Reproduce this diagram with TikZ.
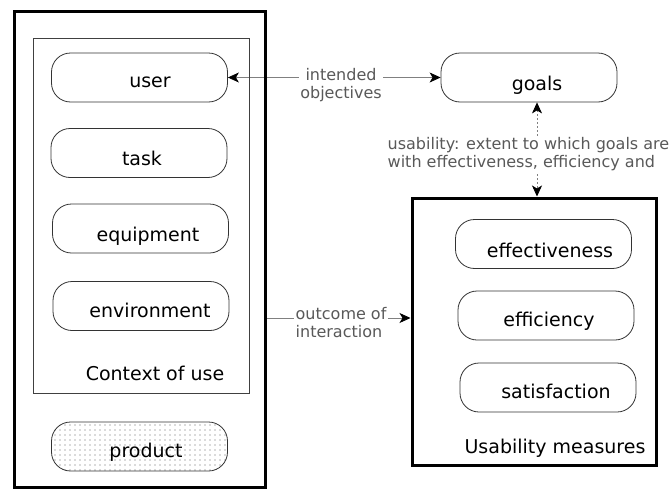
\documentclass[tikz,border=0pt]{standalone}
\usepackage{fontspec}
\setmainfont{DejaVu Sans}
\usetikzlibrary{arrows.meta,patterns.meta,calc}
\pgfdeclarelayer{bg}
\pgfsetlayers{bg,main}
\definecolor{linegray}{gray}{0.5}
\definecolor{labelgray}{gray}{0.35}
\definecolor{dotgray}{gray}{0.4}
\tikzdeclarepattern{name=sparsedots,type=uncolored,
  bounding box={(-1pt,-1pt) and (1pt,1pt)},
  tile size={(5pt,5pt)},
  code={\fill (0pt,0pt) circle (0.55pt);}}
\tikzset{
  myarr/.tip={Stealth[length=11pt,width=10pt,inset=3pt,color=black]},
  frame/.style={draw=black, line width=3pt, inner sep=0pt},
  ctxframe/.style={draw=black!75, line width=1pt, inner sep=0pt},
  box/.style={draw=black!80, line width=0.8pt, rounded corners=19pt, inner sep=0pt,
              minimum width=176pt, minimum height=49pt},
  txt/.style={font=\fontsize{19}{23}\selectfont, text height=10.4pt, text depth=0pt, inner sep=0pt},
  lbl/.style={font=\fontsize{16}{18}\selectfont, text=labelgray, fill=white, inner sep=1.5pt},
  conn/.style={draw=linegray, line width=0.8pt}
}
\begin{document}
\begin{tikzpicture}[x=1pt,y=-1pt]
\useasboundingbox (0,0) rectangle (670,490);
\begin{pgfonlayer}{bg}
\fill[white] (0,0) rectangle (670,490);
\end{pgfonlayer}

% frames
\node[frame, minimum width=251pt, minimum height=476pt] (leftframe) at (139.5,249) {};
\node[ctxframe, minimum width=216pt, minimum height=355pt] (context) at (141,215.5) {};
\node[frame, minimum width=244pt, minimum height=267pt] (usab) at (534,331.5) {};

% rounded boxes
\node[box] (user) at (139.5,77.5) {};
\node[box] (task) at (139,153) {};
\node[box] (equip) at (140.5,228.5) {};
\node[box] (env) at (141,306) {};
\node[box, pattern=sparsedots, pattern color=dotgray] (product) at (139.5,446.5) {};
\node[box] (goals) at (529,77.5) {};
\node[box] (effect) at (543.5,244) {};
\node[box] (effic) at (546,315.5) {};
\node[box] (satis) at (548,387.5) {};

% box texts
\node[txt] (userT) at (150,82) {user};
\node[txt] (taskT) at (142,160) {task};
\node[txt] (equipT) at (148,236) {equipment};
\node[txt] (envT) at (150,312) {environment};
\node[txt] (productT) at (146,452) {product};
\node[txt] (goalsT) at (537,85) {goals};
\node[txt] (effectT) at (550,252) {effectiveness};
\node[txt] (efficT) at (549,321) {efficiency};
\node[txt] (satisT) at (556,393) {satisfaction};
\node[txt] (ctxT) at (155,375) {Context of use};
\node[txt] (usabT) at (555,448) {Usability measures};

% connectors
\coordinate (outc) at (265,318);
\begin{pgfonlayer}{bg}
\draw[conn, myarr-myarr] (user.east) -- (goals.west);
\draw[conn, dash pattern=on 2pt off 2pt, myarr-myarr] ([xshift=8pt]goals.south) -- ([xshift=8pt]goals.south |- usab.north);
\draw[conn, -myarr] (outc) -- (outc -| usab.west);
\end{pgfonlayer}

% connector labels
\node[lbl, align=center, anchor=north] (lblA) at (341,66.5) {intended\\objectives};
\node[lbl, align=left, anchor=north west] (lblB) at (386,136) {usability: extent to which goals are\\with effectiveness, efficiency and};
\node[lbl, align=left, anchor=north west] (lblC) at (294,305.5) {outcome of\\interaction};
\end{tikzpicture}
\end{document}
